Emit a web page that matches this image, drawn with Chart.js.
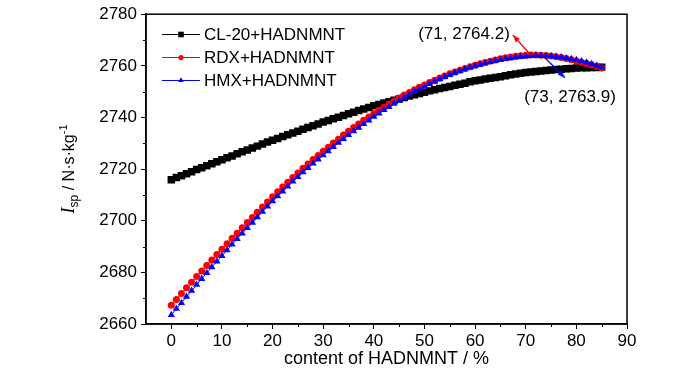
<!DOCTYPE html>
<html lang="en">
  <head>
    <meta charset="UTF-8" />
    <title>Isp vs content of HADNMNT</title>
    <script src="https://cdn.jsdelivr.net/npm/chart.js"></script>
    <style>
      html, body { margin: 0; padding: 0; background: #fff; }
    </style>
  </head>
  <body>
    <canvas id="my-chart" width="700" height="373"></canvas>

    <script>
      //data
      const content = [
        0, 1, 2, 3, 4, 5, 6, 7, 8, 9, 10, 11, 12, 13, 14, 15, 16, 17, 18, 19,
        20, 21, 22, 23, 24, 25, 26, 27, 28, 29, 30, 31, 32, 33, 34, 35, 36, 37, 38, 39,
        40, 41, 42, 43, 44, 45, 46, 47, 48, 49, 50, 51, 52, 53, 54, 55, 56, 57, 58, 59,
        60, 61, 62, 63, 64, 65, 66, 67, 68, 69, 70, 71, 72, 73, 74, 75, 76, 77, 78, 79,
        80, 81, 82, 83, 84, 85,
      ];
      const cl20 = [
        2715.9, 2716.7, 2717.4, 2718.2, 2719.0, 2719.8, 2720.5, 2721.3, 2722.1, 2722.8,
        2723.6, 2724.4, 2725.1, 2725.9, 2726.7, 2727.4, 2728.2, 2728.9, 2729.7, 2730.5,
        2731.2, 2731.9, 2732.6, 2733.3, 2734.0, 2734.7, 2735.4, 2736.1, 2736.8, 2737.5,
        2738.2, 2738.8, 2739.5, 2740.1, 2740.8, 2741.4, 2742.0, 2742.7, 2743.3, 2743.9,
        2744.5, 2745.0, 2745.6, 2746.1, 2746.7, 2747.2, 2747.7, 2748.3, 2748.8, 2749.3,
        2749.8, 2750.3, 2750.7, 2751.2, 2751.6, 2752.0, 2752.5, 2752.9, 2753.3, 2753.8,
        2754.2, 2754.5, 2754.9, 2755.2, 2755.5, 2755.8, 2756.2, 2756.5, 2756.8, 2757.1,
        2757.4, 2757.6, 2757.8, 2758.0, 2758.2, 2758.4, 2758.6, 2758.7, 2758.9, 2759.0,
        2759.2, 2759.3, 2759.3, 2759.4, 2759.4, 2759.5,
      ];
      const rdx = [
        2667.3, 2669.5, 2671.8, 2674.0, 2676.2, 2678.4, 2680.5, 2682.7, 2684.8, 2686.9,
        2689.0, 2691.1, 2693.2, 2695.2, 2697.3, 2699.3, 2701.3, 2703.3, 2705.3, 2707.3,
        2709.3, 2711.2, 2713.1, 2714.9, 2716.7, 2718.5, 2720.3, 2722.0, 2723.7, 2725.3,
        2726.9, 2728.5, 2730.1, 2731.6, 2733.2, 2734.7, 2736.1, 2737.5, 2738.9, 2740.2,
        2741.5, 2742.8, 2744.0, 2745.2, 2746.4, 2747.5, 2748.7, 2749.7, 2750.7, 2751.7,
        2752.6, 2753.5, 2754.4, 2755.3, 2756.1, 2756.9, 2757.6, 2758.3, 2759.0, 2759.6,
        2760.2, 2760.8, 2761.3, 2761.8, 2762.3, 2762.7, 2763.1, 2763.4, 2763.7, 2763.9,
        2764.1, 2764.2, 2764.2, 2764.1, 2764.0, 2763.8, 2763.5, 2763.2, 2762.8, 2762.4,
        2761.9, 2761.4, 2760.9, 2760.4, 2759.8, 2759.2,
      ];
      const hmx = [
        2663.5, 2665.9, 2668.2, 2670.6, 2672.9, 2675.2, 2677.5, 2679.8, 2682.0, 2684.2,
        2686.4, 2688.6, 2690.8, 2693.0, 2695.1, 2697.2, 2699.3, 2701.4, 2703.5, 2705.6,
        2707.6, 2709.5, 2711.4, 2713.3, 2715.2, 2717.0, 2718.8, 2720.5, 2722.2, 2723.8,
        2725.4, 2727.0, 2728.6, 2730.2, 2731.7, 2733.2, 2734.7, 2736.1, 2737.5, 2738.9,
        2740.3, 2741.6, 2742.9, 2744.1, 2745.4, 2746.6, 2747.7, 2748.9, 2750.0, 2751.0,
        2752.0, 2753.0, 2753.9, 2754.8, 2755.7, 2756.5, 2757.3, 2758.0, 2758.7, 2759.3,
        2759.9, 2760.5, 2761.0, 2761.5, 2761.9, 2762.3, 2762.7, 2763.0, 2763.3, 2763.5,
        2763.7, 2763.8, 2763.9, 2763.9, 2763.8, 2763.7, 2763.5, 2763.3, 2763.0, 2762.7,
        2762.3, 2761.8, 2761.3, 2760.7, 2760.1, 2759.5,
      ];
      const seriesNames = ["CL-20+HADNMNT", "RDX+HADNMNT", "HMX+HADNMNT"];
      const xTicks = [0, 10, 20, 30, 40, 50, 60, 70, 80, 90];
      const xMinor = [5, 15, 25, 35, 45, 55, 65, 75, 85];
      const yTicks = [2660, 2680, 2700, 2720, 2740, 2760, 2780];
      const yMinor = [2670, 2690, 2710, 2730, 2750, 2770];
      //peak labels [content, Isp]
      const rdxPeak = [71, 2764.2];
      const hmxPeak = [73, 2763.9];

      const FONT = "'Liberation Sans', Arial, sans-serif";
      const COLORS = ["#000000", "#ff0000", "#0000ff"];
      const STYLES = ["rect", "circle", "triangle"];
      const RADII = [5.3, 3.5, 4.2];

      function toPoints(ys) {
        return content.map((c, i) => ({ x: c, y: ys[i] }));
      }

      function marker(ctx, style, r, x, y) {
        ctx.beginPath();
        if (style === "rect") {
          const s = r * Math.SQRT1_2;
          ctx.rect(x - s, y - s, 2 * s, 2 * s);
        } else if (style === "circle") {
          ctx.arc(x, y, r, 0, Math.PI * 2);
        } else {
          const h = (r * 3) / 2, w = r * Math.sqrt(3);
          ctx.moveTo(x - w / 2, y + h / 3);
          ctx.lineTo(x + w / 2, y + h / 3);
          ctx.lineTo(x, y - (2 * h) / 3);
          ctx.closePath();
        }
        ctx.fill();
      }

      function arrow(ctx, x1, y1, x2, y2, color) {
        const ang = Math.atan2(y2 - y1, x2 - x1);
        ctx.strokeStyle = color;
        ctx.fillStyle = color;
        ctx.lineWidth = 1.2;
        ctx.beginPath();
        ctx.moveTo(x1, y1);
        ctx.lineTo(x2, y2);
        ctx.stroke();
        ctx.beginPath();
        ctx.moveTo(x2, y2);
        ctx.lineTo(x2 - 8 * Math.cos(ang - 0.35), y2 - 8 * Math.sin(ang - 0.35));
        ctx.lineTo(x2 - 8 * Math.cos(ang + 0.35), y2 - 8 * Math.sin(ang + 0.35));
        ctx.closePath();
        ctx.fill();
      }

      //frame, minor ticks, y title, legend and peak notes
      const extrasPlugin = {
        id: "extras",
        afterDraw(chart) {
          const { ctx, chartArea: a, scales } = chart;
          const x = scales.x, y = scales.y;
          ctx.save();
          ctx.strokeStyle = "#000";
          ctx.lineWidth = 1.5;
          ctx.strokeRect(a.left, a.top, a.right - a.left, a.bottom - a.top);

          ctx.lineWidth = 1;
          ctx.beginPath();
          xMinor.forEach((v) => {
            const px = Math.round(x.getPixelForValue(v)) + 0.5;
            ctx.moveTo(px, a.bottom);
            ctx.lineTo(px, a.bottom + 3);
          });
          yMinor.forEach((v) => {
            const py = Math.round(y.getPixelForValue(v)) + 0.5;
            ctx.moveTo(a.left, py);
            ctx.lineTo(a.left - 3, py);
          });
          ctx.stroke();

          //y axis title: I_sp / N·s·kg^-1
          ctx.save();
          ctx.translate(68, (a.top + a.bottom) / 2);
          ctx.rotate(-Math.PI / 2);
          ctx.fillStyle = "#000";
          ctx.textBaseline = "alphabetic";
          const parts = [
            { t: "I", f: "italic 19px 'Liberation Serif', 'Times New Roman', serif", dy: 0 },
            { t: "sp", f: "12px " + FONT, dy: 4 },
            { t: " / N·s·kg", f: "16px " + FONT, dy: 0 },
            { t: "-1", f: "11px " + FONT, dy: -7 },
          ];
          let total = 0;
          parts.forEach((p) => {
            ctx.font = p.f;
            p.w = ctx.measureText(p.t).width;
            total += p.w;
          });
          let cx = -total / 2;
          parts.forEach((p) => {
            ctx.font = p.f;
            ctx.fillText(p.t, cx, 6 + p.dy);
            cx += p.w;
          });
          ctx.restore();

          //legend
          ctx.font = "17px " + FONT;
          ctx.textBaseline = "alphabetic";
          ctx.textAlign = "left";
          const rows = [34, 57, 80];
          seriesNames.forEach((name, i) => {
            const ry = rows[i];
            ctx.strokeStyle = COLORS[i];
            ctx.lineWidth = 1;
            ctx.beginPath();
            ctx.moveTo(162, ry + 0.5);
            ctx.lineTo(200, ry + 0.5);
            ctx.stroke();
            ctx.fillStyle = COLORS[i];
            marker(ctx, STYLES[i], RADII[i] * 0.75, 181, ry + 0.5);
            ctx.fillStyle = "#000";
            ctx.fillText(name, 204, ry + 6);
          });

          //peak notes
          const rx = x.getPixelForValue(rdxPeak[0]), ry = y.getPixelForValue(rdxPeak[1]);
          arrow(ctx, rx, ry, rx - 18, ry - 20, "#ff0000");
          const hx = x.getPixelForValue(hmxPeak[0]), hy = y.getPixelForValue(hmxPeak[1]);
          arrow(ctx, hx + 4, hy + 2, hx + 24, hy + 22, "#0000ff");
          ctx.fillStyle = "#000";
          ctx.textAlign = "center";
          ctx.fillText("(" + rdxPeak[0] + ", " + rdxPeak[1].toFixed(1) + ")", 464, 39);
          ctx.fillText("(" + hmxPeak[0] + ", " + hmxPeak[1].toFixed(1) + ")", 570, 102);
          ctx.restore();
        },
      };

      const datasets = [cl20, rdx, hmx].map((ys, i) => ({
        label: seriesNames[i],
        data: toPoints(ys),
        borderColor: COLORS[i],
        backgroundColor: COLORS[i],
        pointBackgroundColor: COLORS[i],
        pointBorderColor: COLORS[i],
        pointBorderWidth: 0,
        pointStyle: STYLES[i],
        pointRadius: RADII[i],
        borderWidth: 1,
        tension: 0,
        order: 2 - i,
      }));

      const tickFont = { family: FONT, size: 17 };

      const ctx = document.getElementById("my-chart").getContext("2d");
      const myChart = new Chart(ctx, {
        type: "line",
        data: { datasets },
        options: {
          responsive: false,
          animation: false,
          layout: { padding: { top: 13, right: 73, left: 0, bottom: 0 } },
          plugins: { legend: { display: false }, tooltip: { enabled: false } },
          scales: {
            x: {
              type: "linear",
              min: -5,
              max: 90,
              afterBuildTicks: (s) => { s.ticks = xTicks.map((v) => ({ value: v })); },
              afterFit: (s) => { s.height = 49; },
              grid: { drawOnChartArea: false, drawTicks: true, tickLength: 5, color: "#000", lineWidth: 1 },
              border: { color: "#000", width: 1.5 },
              ticks: { color: "#000", font: tickFont, padding: 2, maxRotation: 0, callback: (v) => String(v) },
              title: {
                display: true,
                text: "content of HADNMNT / %",
                color: "#000",
                font: { family: FONT, size: 18 },
                padding: { top: 0, bottom: 3 },
              },
            },
            y: {
              type: "linear",
              min: 2660,
              max: 2780,
              afterBuildTicks: (s) => { s.ticks = yTicks.map((v) => ({ value: v })); },
              afterFit: (s) => { s.width = 146; },
              grid: { drawOnChartArea: false, drawTicks: true, tickLength: 5, color: "#000", lineWidth: 1 },
              border: { color: "#000", width: 1.5 },
              ticks: { color: "#000", font: tickFont, padding: 4, callback: (v) => String(v) },
            },
          },
        },
        plugins: [extrasPlugin],
      });
    </script>
  </body>
</html>
